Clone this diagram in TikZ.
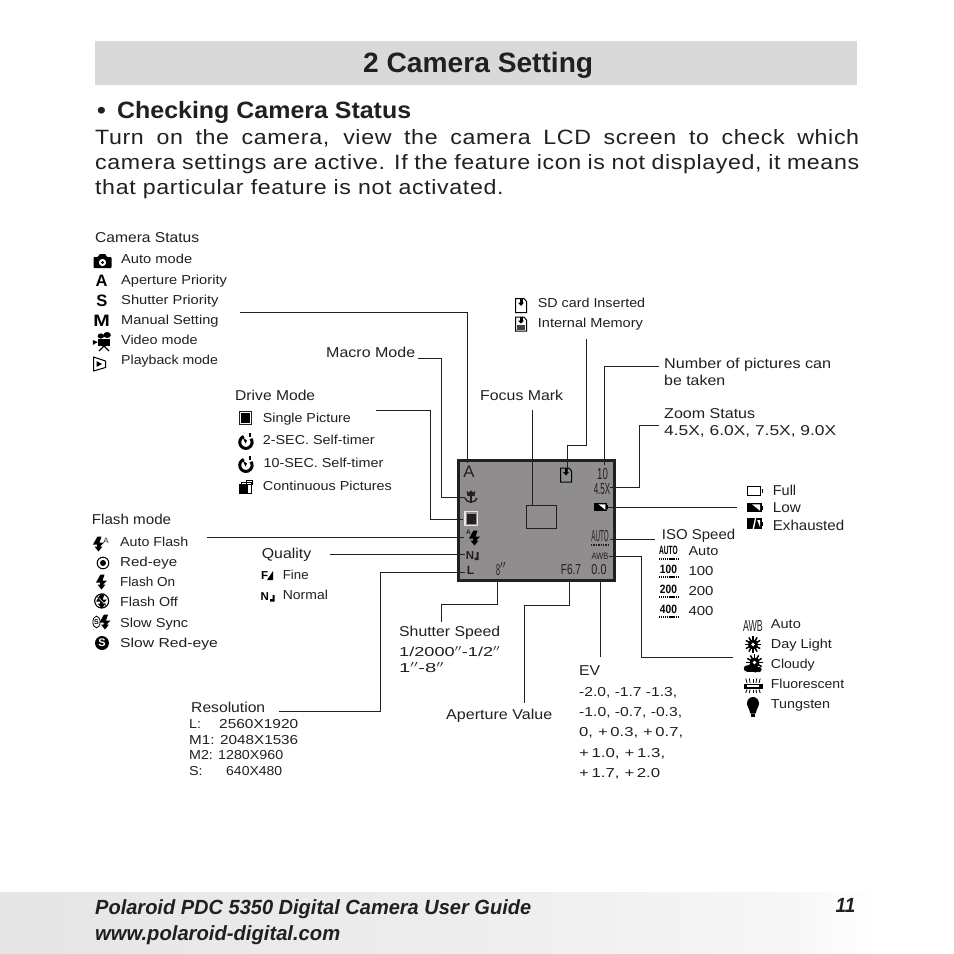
\documentclass[tikz,border=0pt]{standalone}
\usepackage{fontspec}
\usepackage{graphicx}
\setmainfont{Liberation Sans}[FakeStretch=1.1]
\newfontfamily\plainf{Liberation Sans}
\newfontfamily\bodyf{Liberation Sans}[FakeStretch=1.12,LetterSpace=3]
\newfontfamily\headf{Liberation Sans}[FakeStretch=1.06]
\newfontfamily\footf{Liberation Sans}[FakeStretch=0.92]
\newfontfamily\lcdf{Liberation Sans}[FakeStretch=0.5]
\usetikzlibrary{shadings}
\definecolor{lcdgray}{HTML}{8F8D8E}
\definecolor{ink}{HTML}{231F20}
\definecolor{barg}{HTML}{D9D9D9}
\newcommand\W[2]{\resizebox{#1pt}{\height}{#2}}
\pgfdeclarehorizontalshading{footfade}{100bp}{color(0bp)=(white!90!black); color(25bp)=(white!90!black); color(50bp)=(white!93!black); color(67bp)=(white!97!black); color(71bp)=(white); color(100bp)=(white)}
\tikzset{
 txt/.style={anchor=base west,inner sep=0pt,text=ink,font=\fontsize{13}{15}\selectfont},
 head/.style={txt,font=\fontsize{14.3}{16}\selectfont},
 body/.style={anchor=base west,inner sep=0pt,text=ink,font=\bodyf\fontsize{20.7}{24}\selectfont},
 foot/.style={anchor=base west,inner sep=0pt,text=ink,font=\footf\bfseries\itshape\fontsize{20.5}{24}\selectfont},
 lcd/.style={anchor=center,inner sep=0pt,text=ink,font=\lcdf\fontsize{16}{17}\selectfont},
 iso/.style={anchor=center,inner sep=0pt,text=black,font=\lcdf\bfseries\fontsize{12}{14}\selectfont},
 bigl/.style={anchor=center,inner sep=0pt,text=black,font=\plainf\bfseries\fontsize{16.5}{17}\selectfont},
 conn/.style={draw=ink,line width=0.9pt},
 bolt/.pic={\fill[black] (-1,-7.5)--(3,-7.5)--(1,-1.5)--(5.5,-1.5)--(1.5,2.5)--(4,2.5)--(0,7.5)--(-4,2.5)--(-1.5,2.5)--(-1.5,0.5)--(-5.5,0.5)--cycle;},
 cam/.pic={\fill[black,rounded corners=0.8pt] (-9,-4)--(-4.5,-4)--(-3,-7)--(3,-7)--(4.5,-4)--(9,-4)--(9,7)--(-9,7)--cycle; \fill[white] (0,1.5) circle (3.6); \fill[black] (0,1.5) circle (1.6);},
 video/.pic={\fill[black] (-5,-3) rectangle (5,4); \fill[black] (-2.5,-6) circle (2.6); \fill[black] (2.5,-7) circle (3); \fill[black] (-9,-2)--(-5,0)--(-9,3)--cycle; \draw[black,line width=1.3pt] (0,4)--(-4,9) (0,4)--(4,9);},
 play/.pic={\draw[black,line width=1pt] (-6,-7)--(6,-3)--(6,3.5)--(-6,7)--cycle; \fill[black] (-3,-3)--(2.5,0)--(-3,3)--cycle;},
 sd/.pic={\draw[black,line width=1pt] (-5.5,-7)--(3,-7)--(5.5,-4)--(5.5,7)--(-5.5,7)--cycle; \fill[black] (-1.5,-7) rectangle (1.5,-3); \fill[black] (-3,-3)--(3,-3)--(0,0.5)--cycle;},
 mem/.pic={\draw[black,line width=1pt] (-5.5,-7)--(3,-7)--(5.5,-4)--(5.5,7)--(-5.5,7)--cycle; \fill[black] (-1.5,-7) rectangle (1.5,-3.5); \fill[black] (-3,-3.5)--(3,-3.5)--(0,-0.5)--cycle; \fill[black!75] (-4,1) rectangle (4,6);},
 single/.pic={\draw[ink,line width=0.8pt] (-6,-6.2) rectangle (6,6.2); \fill[black] (-4.4,-4.6) rectangle (4.4,4.6);},
 timer/.pic={\draw[black,line width=3pt] (-1.7,-4.6) arc[start angle=-110,end angle=-395,radius=6.2]; \fill[black] (0,2.5)--(-2.8,-3.5)--(1.5,-0.5)--cycle; \fill[black] (3,-8) rectangle (5.5,-4.5);},
 cont/.pic={\fill[black] (-7,-3) rectangle (2,7); \draw[black,line width=0.8pt] (-4,-5) rectangle (6,6); \draw[black,line width=0.8pt] (0.5,-7) rectangle (6.5,-3);},
 redeye/.pic={\draw[black,line width=1pt] (0,0) circle (5.8); \fill[black] (0,0) circle (3);},
 flashoff/.pic={\draw[black,line width=1.1pt] (0,0) circle (7); \begin{scope}[scale=0.62]\pic {bolt};\end{scope} \draw[white,line width=0.5pt] (-5,-5)--(5,5); \draw[black,line width=0.7pt] (-5,-5)--(-2.5,-2.5) (2.5,2.5)--(5,5);},
 slowsync/.pic={\draw[black,line width=0.8pt] (-4.5,0) ellipse (3.6 and 5.8); \node[inner sep=0,font=\plainf\bfseries\fontsize{7}{7}\selectfont] at (-4.5,0) {S}; \begin{scope}[shift={(4,0)},scale=0.85]\pic {bolt};\end{scope}},
 slowred/.pic={\fill[black] (0,0) circle (7); \node[inner sep=0,text=white,font=\plainf\bfseries\fontsize{11}{11}\selectfont] at (0,0) {S};},
 fine/.pic={\node[inner sep=0,font=\plainf\bfseries\fontsize{11.5}{12}\selectfont] at (-2.8,0) {F}; \fill[black] (5.5,-4.5)--(5.5,4.5)--(-0.5,4.5)--cycle;},
 norm/.pic={\node[inner sep=0,font=\plainf\bfseries\fontsize{11.5}{12}\selectfont] at (-2.8,0) {N}; \fill[black] (7,-1.5)--(7,5)--(2.5,5)--(2.5,2.5)--(5,2.5)--(5,-1.5)--cycle;},
 batt/.pic={\draw[black,line width=1.4pt] (-7.5,-4.5) rectangle (5.5,4.5); \fill[black] (6.5,-2) rectangle (8.2,2);},
 battlow/.pic={\fill[black] (-8,-4.7) rectangle (6.5,4.7); \fill[white] (-3,-3.2)--(5,-3.2)--(5,3.2)--cycle; \fill[black] (6.5,-2) rectangle (8.2,2);},
 battex/.pic={\fill[black] (-8,-5.5) rectangle (6.5,5.5); \fill[white] (-2.5,5.5)--(0,-5.5)--(1.2,-5.5)--(-1,5.5)--cycle; \fill[white] (2.2,-3.5)--(5,-3.5)--(5,3.5)--cycle; \fill[black] (6.5,-2) rectangle (8.2,2);},
 sun/.pic={\fill[black] (0,0) circle (5); \foreach \a in {0,30,...,330}{\draw[black,line width=1.5pt] (\a:4)--(\a:8.2);}\fill[white] (0,0) circle (1.8);},
 cloud/.pic={\begin{scope}[shift={(1.5,-2)},scale=0.75]\pic {sun};\end{scope}\fill[black] (-6,4) circle (3.2) (-2,3.5) circle (3.2) (2.5,5) circle (3) (6,5) circle (2.6); \fill[black] (-6,4) rectangle (6,7.7);},
 fluor/.pic={\fill[black] (-9.5,-1.5) rectangle (9.5,3); \fill[white] (-6,-0.2) rectangle (6,1.7); \foreach \a in {-6,-3,0,3,6}{\draw[black,line width=0.8pt] (\a,-2.5)--(\a*1.2,-7);\draw[black,line width=0.8pt] (\a,4)--(\a*1.2,7.5);}},
 bulb/.pic={\fill[black] (0,-3) ellipse (6 and 6.5); \fill[black] (-5,0)--(5,0)--(2.5,7)--(-2.5,7)--cycle; \fill[black] (-2.2,7.5) rectangle (2.2,10);},
 macroic/.pic={\fill[ink] (-4.5,-6.5)--(-2.5,-4.5)--(0,-6.5)--(2.5,-4.5)--(4.5,-6.5)--(3.5,-1)--(-3.5,-1)--cycle; \draw[ink,line width=1.5pt] (0,-1)--(0,6); \draw[ink,line width=1.4pt] (-6,1) .. controls (-5,4) and (-3,5) .. (0,5) .. controls (3,5) and (5,4) .. (6,1);},
}
\begin{document}
\begin{tikzpicture}[x=1pt,y=-1pt]
\useasboundingbox (0,0) rectangle (954,954);
\fill[white] (0,0) rectangle (954,954);
\fill[barg] (95,41) rectangle (857,85);
\shade[shading=footfade] (0,892) rectangle (954,954);

\node[anchor=base west,inner sep=0,text=ink,font=\plainf\bfseries\fontsize{28}{30}\selectfont] (title) at (363,72.5) {\W{230}{2 Camera Setting}};
\node[anchor=base west,inner sep=0,text=ink,font=\headf\bfseries\fontsize{23.6}{26}\selectfont] (sub) at (97,118) {\W{314}{\makebox[20pt][l]{•}Checking Camera Status}};
\node[body] (b1) at (95,144.3) {\makebox[764pt][s]{Turn on the camera, view the camera LCD screen to check which}};
\node[body] (b2) at (95,169.3) {\makebox[764pt][s]{camera settings are active. If the feature icon is not displayed, it means}};
\node[body] (b3) at (95,194.3) {that particular feature is not activated.};

% LCD
\fill[lcdgray] (458.5,460.5) rectangle (614,580.5);
\node[anchor=center,inner sep=0,text=ink,font=\plainf\fontsize{16.7}{17}\selectfont] (lA) at (469,472) {A};
\pic at (471,497) {macroic};
\pic at (566,475) {sd};
\draw[black!8!lcdgray!20!white,line width=1.2pt] (465,511.5) rectangle (477.5,525.5);
\fill[ink] (467,513.5) rectangle (476,523.5);
\node[anchor=center,inner sep=0,text=ink,font=\plainf\bfseries\fontsize{6.5}{7}\selectfont] (lAs) at (468.5,532.5) {A};
\begin{scope}[shift={(474.5,538)},scale=0.8]\pic {bolt};\end{scope}
\node[inner sep=0,text=ink,font=\plainf\bfseries\fontsize{11.5}{12}\selectfont] (lN) at (470,556) {N};
\fill[ink] (478.5,552)--(478.5,560)--(474.5,560)--(474.5,557.5)--(476.5,557.5)--(476.5,552)--cycle;
\node[inner sep=0,text=ink,font=\plainf\bfseries\fontsize{12}{12}\selectfont] (lL) at (470.5,570.5) {L};
\node[lcd,xscale=1.2] (l10) at (602.5,473.5) {10};
\node[lcd] (l45) at (602,489.5) {4.5X};
\pic[scale=0.85] at (601,507) {battlow};
\node[lcd,xscale=0.78] (lauto) at (600,536) {AUTO};
\draw[ink,line width=2pt,dash pattern=on 1.4pt off 1pt] (591,545) -- (608,545);
\node[lcd,font=\plainf\fontsize{9.3}{10}\selectfont,xscale=0.8] (lawb) at (600,556) {AWB};
\node[lcd,xscale=0.9] (l8) at (501,569) {8$^{\prime\prime}$};
\node[lcd,font=\lcdf\fontsize{14.4}{16}\selectfont,xscale=1.4] (lf) at (571,570) {F6.7};
\node[lcd,font=\lcdf\fontsize{14.4}{16}\selectfont,xscale=1.5] (l00) at (599,569.5) {0.0};
\draw[ink,line width=0.9pt] (526,505) rectangle (556,528);
\draw[ink,line width=3pt] (458.5,460.5) rectangle (614,580.5);

% connectors
\coordinate (c1) at (240,312); \coordinate (c1e) at (467.5,463);
\draw[conn] (c1) -| (c1e);
\coordinate (c2) at (418,358); \coordinate (c2e) at (465,497);
\draw[conn] (c2) -| (441.5,497) -- (c2e);
\coordinate (c3) at (376,410); \coordinate (c3e) at (463,519);
\draw[conn] (c3) -| (430,519) -- (c3e);
\coordinate (c4) at (207,537); \coordinate (c4e) at (464,537);
\draw[conn] (c4) -- (c4e);
\coordinate (c5) at (330,554); \coordinate (c5e) at (465,554);
\draw[conn] (c5) -- (c5e);
\coordinate (c6) at (279,711); \coordinate (c6e) at (465,572);
\draw[conn] (c6) -| (380,572) -- (c6e);
\coordinate (c7) at (497.5,579); \coordinate (c7e) at (441,622);
\draw[conn] (c7) |- (441,604) -- (c7e);
\coordinate (c8) at (569,579); \coordinate (c8e) at (524,703);
\draw[conn] (c8) |- (524,605) -- (c8e);
\coordinate (c9) at (600.5,579); \coordinate (c9e) at (600.5,657);
\draw[conn] (c9) -- (c9e);
\coordinate (c10) at (609,556); \coordinate (c10e) at (733,657);
\draw[conn] (c10) -| (641,657) -- (c10e);
\coordinate (c11) at (610,539); \coordinate (c11e) at (655,539);
\draw[conn] (c11) -- (c11e);
\coordinate (c12) at (608,507.5); \coordinate (c12e) at (737,507.5);
\draw[conn] (c12) -- (c12e);
\coordinate (c13) at (610,487.5); \coordinate (c13e) at (659,425);
\draw[conn] (c13) -| (639.5,425) -- (c13e);
\coordinate (c14) at (604,465); \coordinate (c14e) at (659,366.5);
\draw[conn] (c14) |- (c14e);
\coordinate (c15) at (586.5,339); \coordinate (c15e) at (567,472);
\draw[conn] (c15) |- (567,445) -- (c15e);
\coordinate (c16) at (532.5,410); \coordinate (c16e) at (532.5,505);
\draw[conn] (c16) -- (c16e);

% Camera status
\node[head] (cs) at (95,242) {\W{104}{Camera Status}};
\node[txt] (cs1) at (121,263.5) {\W{71}{Auto mode}};
\node[txt] (cs2) at (121,284) {\W{105.7}{Aperture Priority}};
\node[txt] (cs3) at (121,304.5) {\W{97.3}{Shutter Priority}};
\node[txt] (cs4) at (121,324.5) {\W{97.3}{Manual Setting}};
\node[txt] (cs5) at (121,344.5) {\W{76.3}{Video mode}};
\node[txt] (cs6) at (121,364.5) {\W{96.7}{Playback mode}};
\pic at (102.5,261) {cam};
\node[bigl] (ia) at (101.7,281) {A};
\node[bigl] (is) at (102,301) {S};
\node[bigl,xscale=1.2] (im) at (101.5,321) {M};
\pic[xscale=1.25] at (104,342) {video};
\pic at (99.5,364) {play};

% SD
\node[txt] (sd1) at (537.7,307.5) {\W{107.3}{SD card Inserted}};
\node[txt] (sd2) at (537.7,327.5) {\W{105}{Internal Memory}};
\pic at (521,305.5) {sd};
\pic at (521,324) {mem};

\node[head] (macro) at (326,357) {\W{89}{Macro Mode}};
\node[head] (num1) at (664,368) {\W{167}{Number of pictures can}};
\node[head] (num2) at (664,385) {\W{61}{be taken}};
\node[head] (zoom1) at (664,418) {\W{91}{Zoom Status}};
\node[head] (zoom2) at (664,435) {\W{172}{4.5X, 6.0X, 7.5X, 9.0X}};

% Drive
\node[head] (dm) at (235,400) {\W{80}{Drive Mode}};
\node[txt] (dm1) at (262.7,422) {\W{88}{Single Picture}};
\node[txt] (dm2) at (262.7,444.5) {\W{111.7}{2-SEC. Self-timer}};
\node[txt] (dm3) at (263.3,467.5) {\W{120}{10-SEC. Self-timer}};
\node[txt] (dm4) at (262.7,490.5) {\W{129}{Continuous Pictures}};
\pic at (245.5,418) {single};
\pic at (245.5,441) {timer};
\pic at (245.5,464) {timer};
\pic at (245.5,487) {cont};

\node[head] (fm) at (480,400) {\W{83}{Focus Mark}};

% Flash
\node[head] (fl) at (91.7,524) {\W{79.3}{Flash mode}};
\node[txt] (fl1) at (120,546) {\W{68}{Auto Flash}};
\node[txt] (fl2) at (120,566) {\W{57}{Red-eye}};
\node[txt] (fl3) at (120,586.5) {\W{55}{Flash On}};
\node[txt] (fl4) at (120,606.5) {\W{57.7}{Flash Off}};
\node[txt] (fl5) at (120,627) {\W{68}{Slow Sync}};
\node[txt] (fl6) at (120,647) {\W{97.7}{Slow Red-eye}};
\begin{scope}[shift={(98.5,544)},scale=0.93]\pic {bolt};\end{scope}
\node[inner sep=0,text=ink,font=\plainf\fontsize{8}{8}\selectfont] (fla) at (106,540.5) {A};
\pic at (103,563) {redeye};
\pic at (101.5,582) {bolt};
\pic at (101.7,601) {flashoff};
\pic at (101,622) {slowsync};
\pic at (102,643) {slowred};

% Quality
\node[head] (q) at (261.7,558) {\W{49.3}{Quality}};
\node[txt] (q1) at (282.7,579.5) {\W{25.7}{Fine}};
\node[txt] (q2) at (282.7,599.5) {\W{45}{Normal}};
\pic at (267.5,575.5) {fine};
\pic at (267.5,596.5) {norm};

% Battery
\node[head] (b1l) at (772.7,495) {\W{23.3}{Full}};
\node[head] (b2l) at (772.7,512.5) {\W{28}{Low}};
\node[head] (b3l) at (772.7,530) {\W{71.3}{Exhausted}};
\pic at (755,491) {batt};
\pic at (755,507.5) {battlow};
\pic at (755,523.5) {battex};

% ISO
\node[head] (iso) at (661.7,539) {\W{73.3}{ISO Speed}};
\node[txt] (iso1) at (688.3,555) {\W{30}{Auto}};
\node[txt] (iso2) at (688.3,575) {\W{25}{100}};
\node[txt] (iso3) at (688.3,595) {\W{25}{200}};
\node[txt] (iso4) at (688.3,615) {\W{25}{400}};
\foreach \n/\t/\y/\s/\u in {a/AUTO/550.5/1.1/558.5,b/100/569.5/1.7/577,c/200/589/1.7/596.5,d/400/609/1.7/617}{
 \node[iso,xscale=\s] (isoi\n) at (668.5,\y) {\t};
 \draw[black,line width=2pt,dash pattern=on 1.2pt off 0.7pt] (659,\u) -- (678.5,\u);
}

% WB
\node[anchor=center,inner sep=0,text=ink,font=\lcdf\fontsize{16}{17}\selectfont,xscale=1.1] (wba) at (753,626) {AWB};
\node[txt] (wb1) at (770.7,628) {\W{30}{Auto}};
\node[txt] (wb2) at (770.7,648) {\W{61}{Day Light}};
\node[txt] (wb3) at (770.7,668) {\W{43.7}{Cloudy}};
\node[txt] (wb4) at (770.7,688) {\W{73.3}{Fluorescent}};
\node[txt] (wb5) at (770.7,708.5) {\W{59.3}{Tungsten}};
\pic at (753,644.5) {sun};
\pic at (753,664.5) {cloud};
\pic at (753,685.5) {fluor};
\pic at (753,706.5) {bulb};

% Shutter
\node[head] (ss) at (399,636) {\W{101}{Shutter Speed}};
\node[txt] (ss1) at (399,656) {\W{101}{1/2000$^{\prime\prime}$-1/2$^{\prime\prime}$}};
\node[txt] (ss2) at (399,672) {\W{45}{1$^{\prime\prime}$-8$^{\prime\prime}$}};

% Resolution
\node[head] (res) at (191,712) {\W{74}{Resolution}};
\node[txt] (r1) at (189,728.5) {L:};
\node[txt] (r1v) at (219,728.5) {\W{79}{2560X1920}};
\node[txt] (r2) at (189,744) {\W{109}{M1: 2048X1536}};
\node[txt] (r3) at (189,759) {\W{94}{M2: 1280X960}};
\node[txt] (r4) at (189,775) {S:};
\node[txt] (r4v) at (226,775) {\W{56}{640X480}};

\node[head] (av) at (446,719) {\W{106}{Aperture Value}};

% EV
\node[head] (ev) at (579,675) {EV};
\node[txt] (ev1) at (579,696) {\W{98}{-2.0, -1.7 -1.3,}};
\node[txt] (ev2) at (579,716.5) {\W{103}{-1.0, -0.7, -0.3,}};
\node[txt] (ev3) at (579,736.5) {\W{104}{0,\,\,+\,0.3,\,\,+\,0.7,}};
\node[txt] (ev4) at (579,757) {\W{86}{+\,1.0,\,\,+\,1.3,}};
\node[txt] (ev5) at (579,777) {\W{81}{+\,1.7,\,\,+\,2.0}};

% Footer
\node[foot] (f1) at (95,914) {\W{436}{Polaroid PDC 5350 Digital Camera User Guide}};
\node[foot] (f2) at (95,940) {\W{245}{www.polaroid-digital.com}};
\node[foot] (f3) at (835.5,912.5) {11};
\end{tikzpicture}
\end{document}
